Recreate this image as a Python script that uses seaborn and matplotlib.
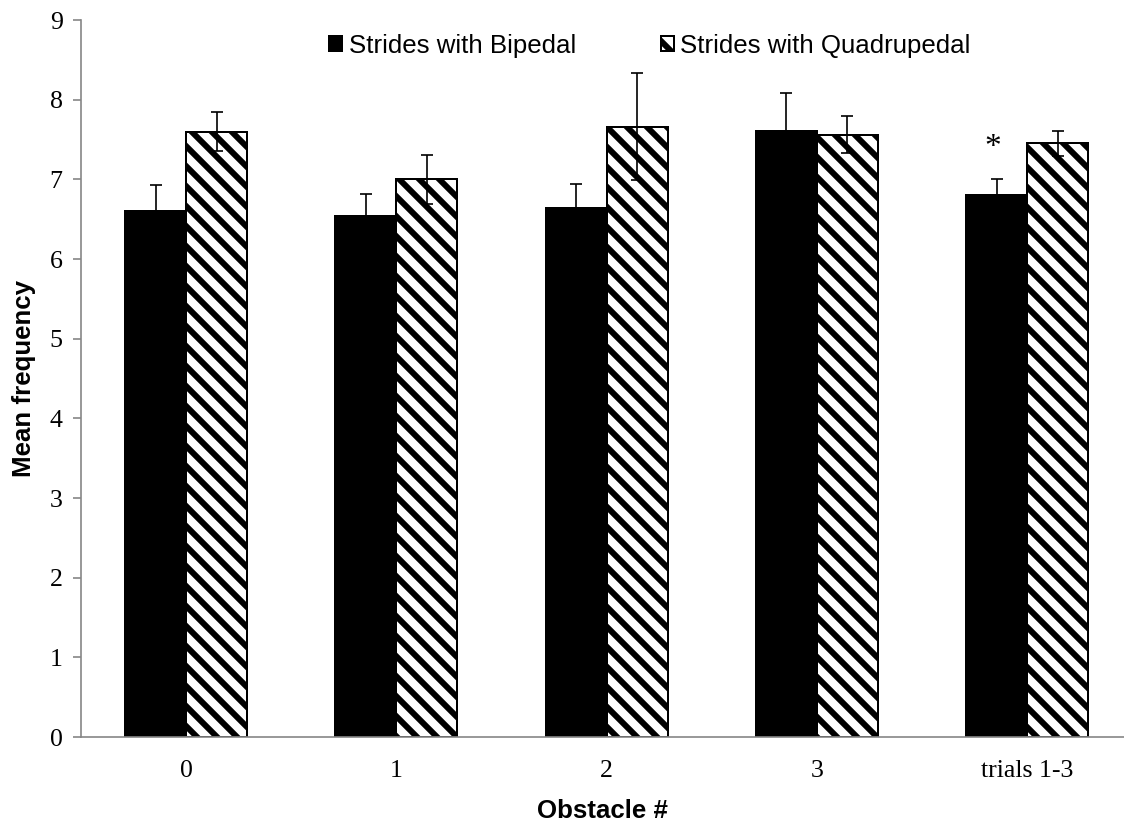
import matplotlib
matplotlib.use("Agg")
import matplotlib.pyplot as plt
import seaborn as sns
import pandas as pd
import numpy as np
from matplotlib.ticker import FixedLocator

categories = ["0", "1", "2", "3", "trials 1-3"]
series = ["Strides with Bipedal", "Strides with Quadrupedal"]
bipedal = [6.60, 6.54, 6.64, 7.61, 6.80]
bipedal_err = [0.33, 0.27, 0.30, 0.47, 0.20]
quadrupedal = [7.60, 7.00, 7.66, 7.56, 7.45]
quadrupedal_err = [0.24, 0.31, 0.67, 0.23, 0.16]
yticks = [0, 1, 2, 3, 4, 5, 6, 7, 8, 9]

sns.set_theme(style="white")
plt.rcParams["hatch.linewidth"] = 3.6
plt.rcParams["hatch.color"] = "black"
plt.rcParams["text.color"] = "black"
plt.rcParams["axes.labelcolor"] = "black"
plt.rcParams["xtick.labelcolor"] = "black"
plt.rcParams["ytick.labelcolor"] = "black"

DPI = 120
fig = plt.figure(figsize=(1124 / DPI, 821 / DPI), dpi=DPI)
ax = fig.add_axes([81 / 1124, 1 - 737 / 821, 1 - 81 / 1124, (737 - 20) / 821])

df = pd.DataFrame({
    "Obstacle": categories * 2,
    "Series": [series[0]] * len(categories) + [series[1]] * len(categories),
    "Value": bipedal + quadrupedal,
})

sns.barplot(data=df, x="Obstacle", y="Value", hue="Series", order=categories,
            hue_order=series, palette=["black", "white"], errorbar=None,
            width=0.58, edgecolor="black", linewidth=1.2, saturation=1, ax=ax)

HATCH = "\\\\"
n = len(categories)
patches = ax.patches[:2 * n]
for i, p in enumerate(patches):
    if i >= n:
        p.set_hatch(HATCH)
        p.set_facecolor("white")
        p.set_edgecolor("black")

errs = bipedal_err + quadrupedal_err
vals = bipedal + quadrupedal
xs = [p.get_x() + p.get_width() / 2 for p in patches]
ax.errorbar(xs, vals, yerr=errs, fmt="none", ecolor="black", elinewidth=1.0,
            capsize=3.4, capthick=1.0, zorder=5)

# significance marker
ax.text(xs[n - 1] - 0.02, 7.40, "*", ha="center", va="center", fontsize=20,
        family="Liberation Serif", color="black")

FS = 15.5
ax.set_ylim(0, 9)
ax.set_xlim(-0.5, (1124 - 81) / 210.25 - 0.5)
ax.set_yticks(yticks)
ax.set_yticklabels([str(t) for t in yticks], family="Liberation Serif", fontsize=FS)
ax.set_xticks(range(n))
ax.set_xticklabels(categories, family="Liberation Serif", fontsize=FS)
ax.xaxis.set_minor_locator(FixedLocator([i - 0.5 for i in range(n)]))
ax.tick_params(axis="x", which="major", length=0, pad=14)
ax.tick_params(axis="x", which="minor", length=5, width=1, color="#868686", direction="out")
ax.tick_params(axis="y", which="major", length=5, width=1, color="#868686",
               direction="out", left=True, pad=6)

for s in ["top", "right"]:
    ax.spines[s].set_visible(False)
for s in ["left", "bottom"]:
    ax.spines[s].set_color("#868686")
    ax.spines[s].set_linewidth(1.0)

ax.set_xlabel("Obstacle #", family="Liberation Sans", fontweight="bold", fontsize=FS, labelpad=10)
ax.set_ylabel("Mean frequency", family="Liberation Sans", fontweight="bold", fontsize=FS, labelpad=8)

leg = ax.legend(loc="upper center", bbox_to_anchor=(0.5455, 0.995), ncol=2,
                frameon=False, prop={"family": "Liberation Sans", "size": FS},
                handlelength=0.5, handleheight=0.5, handletextpad=0.25, columnspacing=3.28,
                borderaxespad=0.0)
for h in leg.legend_handles:
    h.set_edgecolor("black")
leg.legend_handles[1].set_hatch(HATCH)

fig.savefig("out.png", dpi=DPI)
